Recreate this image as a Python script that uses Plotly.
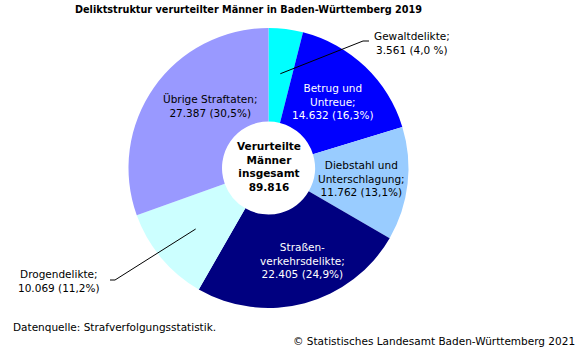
import math
import plotly.graph_objects as go

# Offence categories and convicted men per category (Baden-Württemberg 2019)
categories = ["Gewaltdelikte", "Betrug und Untreue", "Diebstahl und Unterschlagung",
              "Straßenverkehrsdelikte", "Drogendelikte", "Übrige Straftaten"]
label_text = ["Gewaltdelikte;", "Betrug und<br>Untreue;", "Diebstahl und<br>Unterschlagung;",
              "Straßen-<br>verkehrsdelikte;", "Drogendelikte;", "Übrige Straftaten;"]
values = [3561, 14632, 11762, 22405, 10069, 27387]
percent_text = ["4,0 %", "16,3%", "13,1%", "24,9%", "11,2%", "30,5%"]
total = 89816

colors = ["#00FFFF", "#0000FF", "#99CCFF", "#000080", "#CCFFFF", "#9999FF"]
text_colors = ["#000000", "#FFFFFF", "#000000", "#FFFFFF", "#000000", "#000000"]

W, H = 581, 347
FONT = "Verdana, DejaVu Sans, sans-serif"

# pie placement in pixels
left, right, top, bottom = 128, 409, 28, 308
cx, cy = (left + right) / 2, (top + bottom) / 2
R = min(right - left, bottom - top) / 2
hole = 0.332

def px(x):
    return x / W

def py(y):
    return 1 - y / H

def fmt(v):
    return f"{v:,}".replace(",", ".")

fig = go.Figure(go.Pie(
    labels=categories,
    values=values,
    sort=False,
    direction="clockwise",
    rotation=0,
    hole=hole,
    marker=dict(colors=colors, line=dict(width=0)),
    textinfo="none",
    hoverinfo="label+value+percent",
    showlegend=False,
    domain=dict(x=[px(left), px(right)], y=[py(bottom), py(top)]),
))

# mid angle of each slice, measured clockwise from 12 o'clock
mids = []
acc = 0
s = sum(values)
for v in values:
    mids.append((acc + v / 2) / s * 360)
    acc += v

def polar(angle, r):
    a = math.radians(angle)
    return cx + r * math.sin(a), cy - r * math.cos(a)

ring_r = (R * hole + R) / 2
nudges = {1: (0, 1), 2: (0, 0), 3: (10, 2), 5: (18, -8)}

annotations = []
for i, (dx, dy) in nudges.items():
    x, y = polar(mids[i], ring_r)
    annotations.append(dict(
        x=px(x + dx), y=py(y + dy), xref="paper", yref="paper",
        text=f"{label_text[i]}<br>{fmt(values[i])} ({percent_text[i]})",
        showarrow=False, xanchor="center", yanchor="middle", align="center",
        font=dict(family=FONT, size=10.5, color=text_colors[i]),
    ))

# outside labels with leader lines
shapes = []
outside = {0: ((363, 41), (369, 41), (372, 42.5), "left"),
           4: ((115, 280), (110, 280), (102, 281), "right")}
for i, (elbow, end, tpos, anchor) in outside.items():
    sx, sy = polar(mids[i], 95)
    path = (f"M {px(sx)},{py(sy)} L {px(elbow[0])},{py(elbow[1])} "
            f"L {px(end[0])},{py(end[1])}")
    shapes.append(dict(type="path", path=path, xref="paper", yref="paper",
                       line=dict(color="#000000", width=1)))
    annotations.append(dict(
        x=px(tpos[0]), y=py(tpos[1]), xref="paper", yref="paper",
        text=f"{label_text[i]}<br>{fmt(values[i])} ({percent_text[i]})",
        showarrow=False, xanchor=anchor, yanchor="middle", align="center",
        font=dict(family=FONT, size=10.5, color="#000000"),
    ))

# centre text
annotations.append(dict(
    x=px(cx), y=py(166.5), xref="paper", yref="paper",
    text=f"<b>Verurteilte<br>Männer<br>insgesamt<br>{fmt(total)}</b>",
    showarrow=False, xanchor="center", yanchor="middle", align="center",
    font=dict(family=FONT, size=10.5, color="#000000"),
))

# title and footer
annotations.append(dict(
    x=px(248), y=py(9), xref="paper", yref="paper",
    text="<b>Deliktstruktur verurteilter Männer in Baden-Württemberg 2019</b>",
    showarrow=False, xanchor="center", yanchor="middle",
    font=dict(family=FONT, size=9.7, color="#000000"),
))
annotations.append(dict(
    x=px(11), y=py(327), xref="paper", yref="paper",
    text="Datenquelle: Strafverfolgungsstatistik.",
    showarrow=False, xanchor="left", yanchor="middle",
    font=dict(family=FONT, size=10.5, color="#000000"),
))
annotations.append(dict(
    x=px(577), y=py(341), xref="paper", yref="paper",
    text="© Statistisches Landesamt Baden-Württemberg 2021",
    showarrow=False, xanchor="right", yanchor="middle",
    font=dict(family=FONT, size=10.5, color="#000000"),
))

fig.update_layout(
    width=W, height=H,
    margin=dict(l=0, r=0, t=0, b=0),
    paper_bgcolor="#FFFFFF", plot_bgcolor="#FFFFFF",
    annotations=annotations, shapes=shapes,
)

fig.write_html("out.html")
